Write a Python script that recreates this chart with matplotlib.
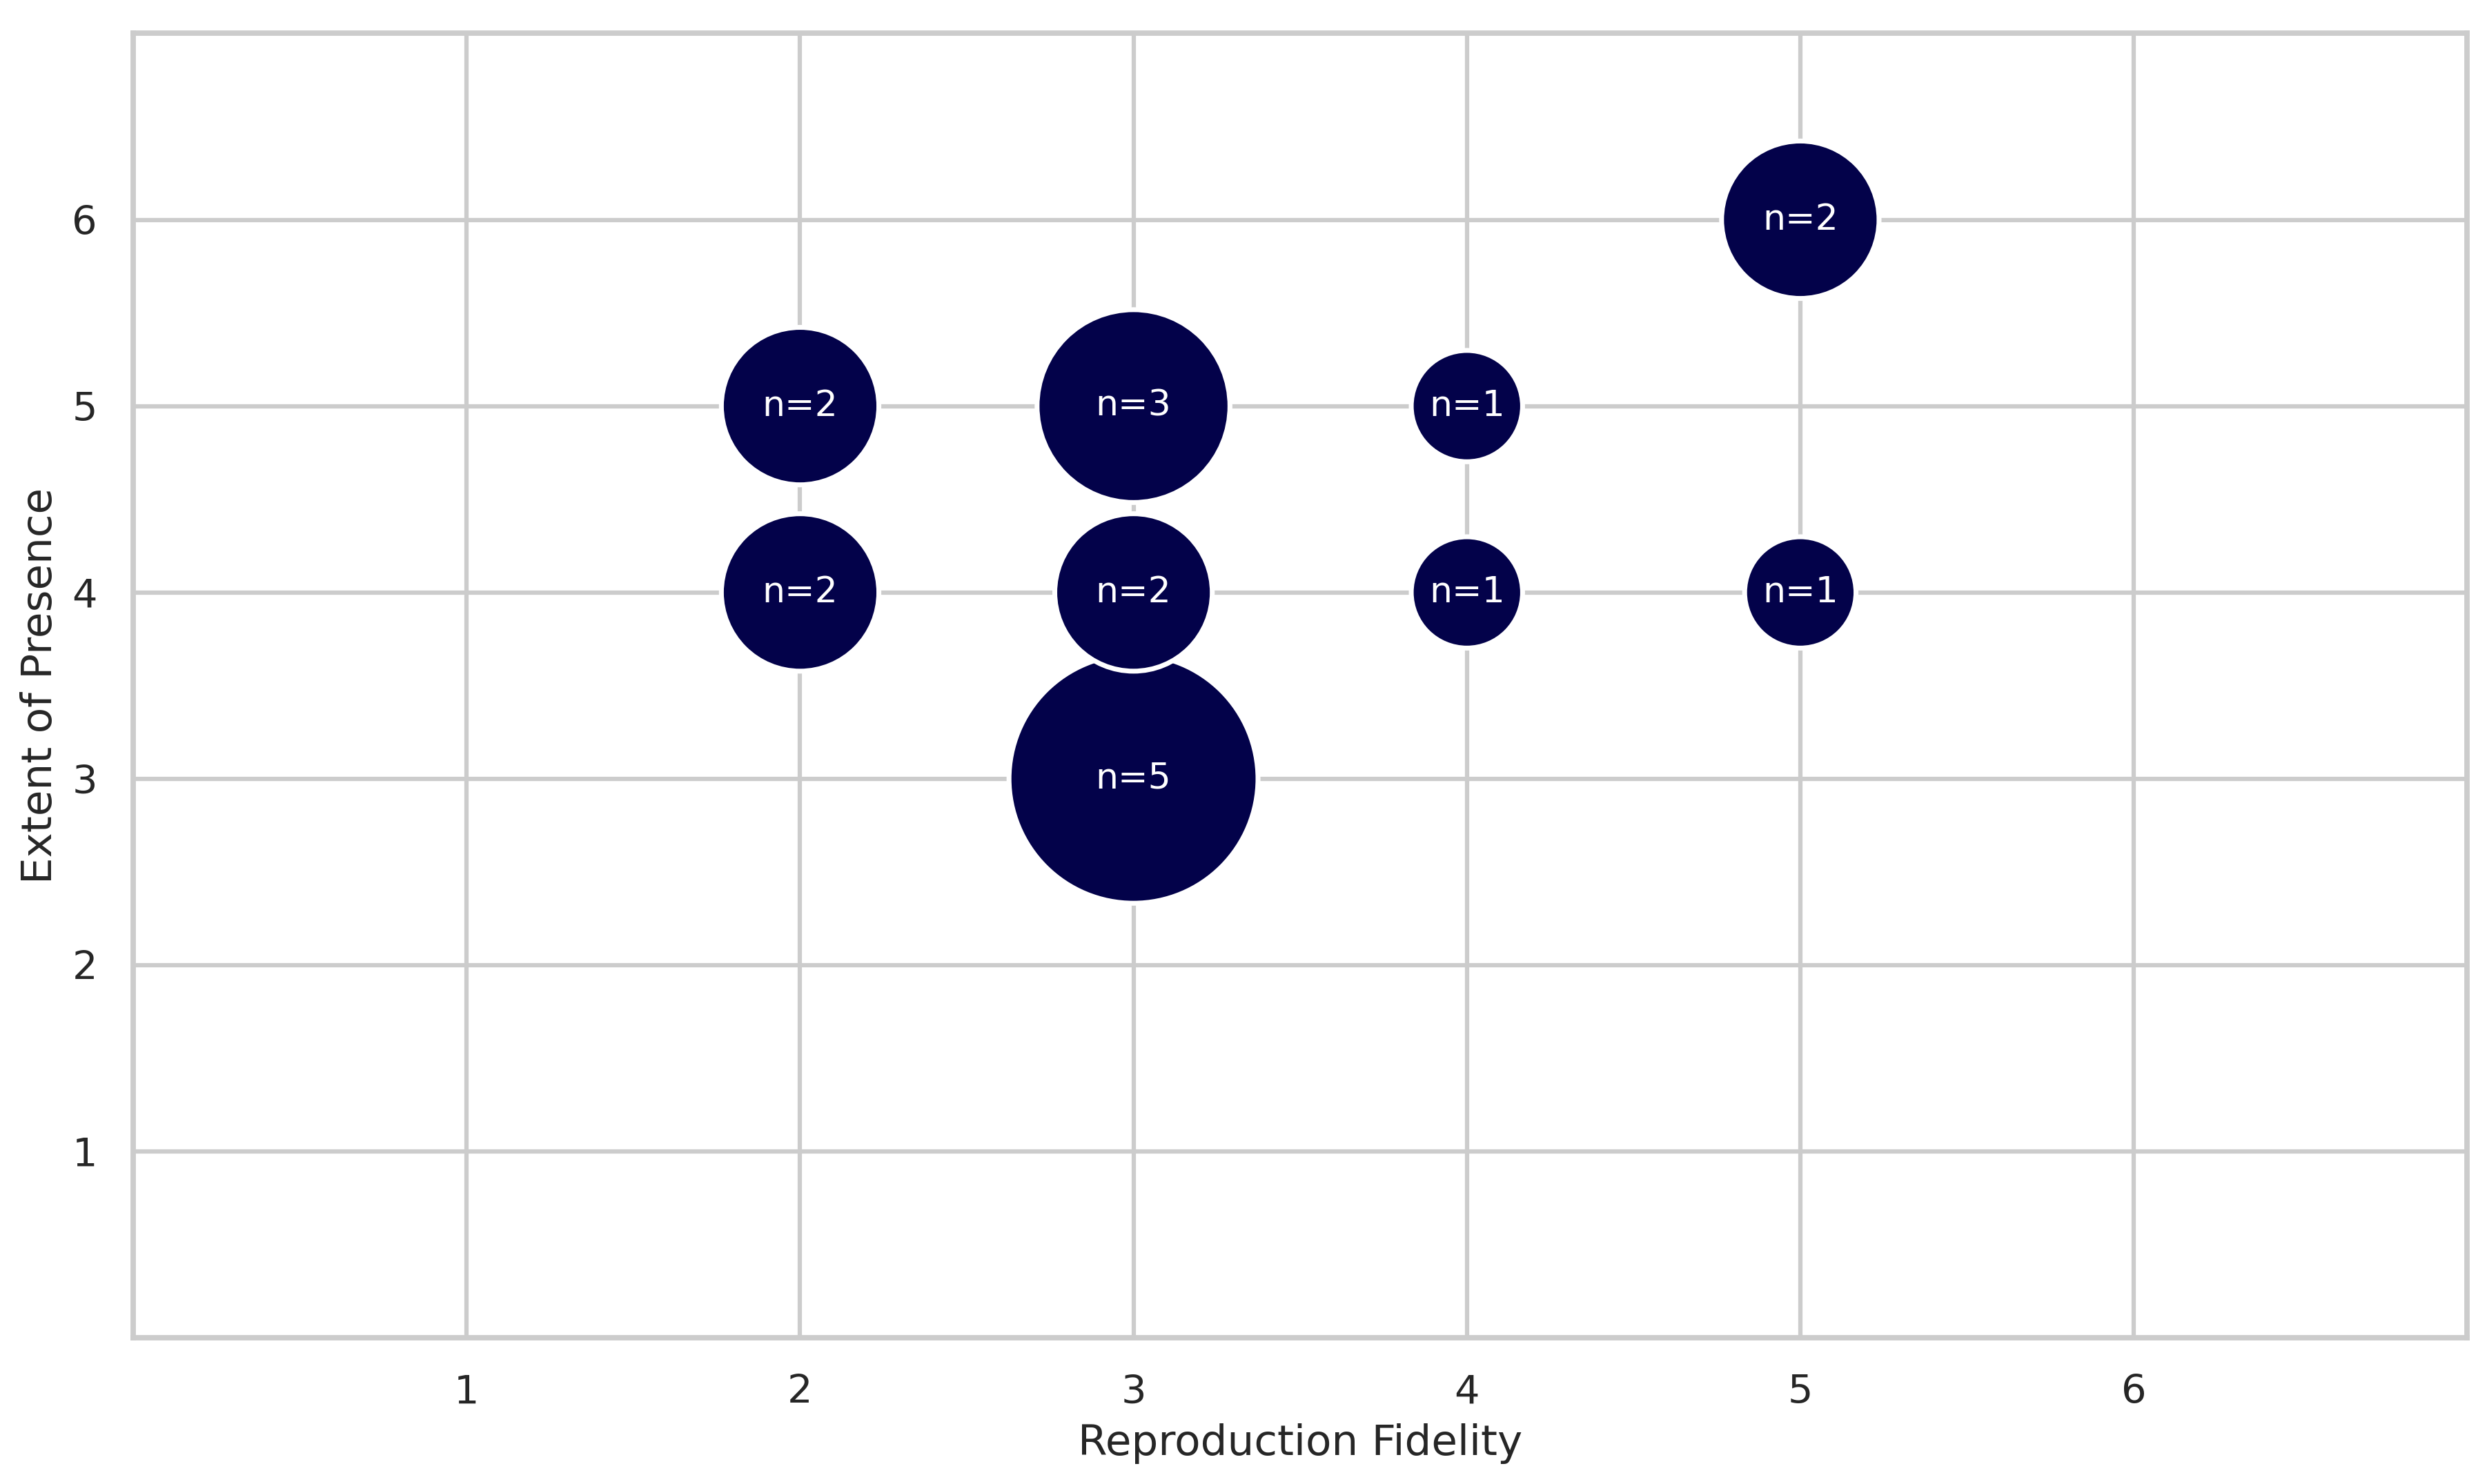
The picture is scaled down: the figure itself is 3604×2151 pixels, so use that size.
import matplotlib
matplotlib.use("Agg")
import matplotlib.pyplot as plt
import seaborn as sns

# Reproduction fidelity vs extent of presence, bubble size = count
fidelity = [2, 2, 3, 3, 3, 4, 4, 5, 5]
presence = [4, 5, 3, 4, 5, 4, 5, 4, 6]
counts = [2, 2, 5, 2, 3, 1, 1, 1, 2]
ticks = [1, 2, 3, 4, 5, 6]

sns.set_theme(style="whitegrid", context="talk")
plt.rcParams["font.family"] = ["DejaVu Sans"]

fig = plt.figure(figsize=(3604 / 300, 2151 / 300), dpi=300)
ax = fig.add_axes([0.0536, 0.0985, 0.9384, 0.879])

ax.scatter(fidelity, presence, s=[c * 1500 for c in counts],
           color="#03024a", edgecolor="white", linewidth=1.7, zorder=3)

for x, y, c in zip(fidelity, presence, counts):
    ax.text(x, y, f"n={c}", color="white", fontsize=12.5,
            ha="center", va="center", zorder=4)

ax.set_xlim(0, 7)
ax.set_ylim(0, 7)
ax.set_xticks(ticks)
ax.set_yticks(ticks)
ax.tick_params(labelsize=13.8, colors="#262626")
ax.set_xlabel("Reproduction Fidelity", fontsize=14.7, color="#262626")
ax.set_ylabel("Extent of Presence", fontsize=14.7, color="#262626")

fig.savefig("out.png", dpi=300)
